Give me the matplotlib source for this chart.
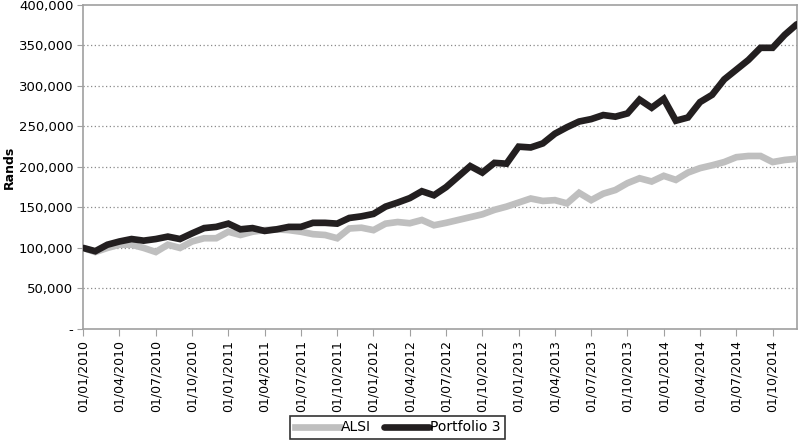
import matplotlib
matplotlib.use("Agg")
import matplotlib.pyplot as plt
from matplotlib.ticker import FuncFormatter

# monthly values, Jan 2010 - Dec 2014 (thousands of Rands)
months = list(range(60))
alsi = [100, 95, 100, 104, 104, 100, 95, 104, 100, 108,
        112, 112, 120, 116, 120, 122, 123, 122, 120, 117,
        116, 112, 124, 125, 122, 130, 132, 130.5, 134.5, 128,
        131, 134.5, 138, 141.5, 147, 151, 156, 161, 158, 159,
        155, 168, 159, 167, 171.5, 180, 186, 182, 189, 184,
        193, 198.5, 202, 206, 212, 213.5, 213.5, 206, 208.6, 210]
portfolio3 = [100, 96, 104, 108, 111, 109, 111, 114, 111, 118,
              124.5, 126, 130, 123, 124.5, 121, 123, 126, 126, 131,
              131, 130, 137, 139, 142, 151, 156, 161.5, 170, 165,
              175, 188, 201, 193, 205, 204, 225, 224, 229, 241,
              249, 256, 259, 264, 262, 266, 283, 273, 284, 257,
              261, 280, 289, 308, 320, 332, 347, 347, 363, 376]
tick_pos = list(range(0, 60, 3))
tick_labels = ["01/%02d/%d" % (m, y) for y in range(2010, 2015) for m in (1, 4, 7, 10)]
yticks = [0, 50000, 100000, 150000, 200000, 250000, 300000, 350000, 400000]

fig = plt.figure(figsize=(8, 4.41), dpi=100)
ax = fig.add_axes([0.104, 0.254, 0.892, 0.735])

ax.plot(months, [v * 1000 for v in alsi], color="#bfbfbf", lw=4.8,
        solid_joinstyle="miter", label="ALSI", zorder=3)
ax.plot(months, [v * 1000 for v in portfolio3], color="#231f20", lw=4.8,
        solid_joinstyle="miter", solid_capstyle="round", label="Portfolio 3", zorder=4)

ax.set_xlim(0, 59)
ax.set_ylim(0, 400000)
ax.set_yticks(yticks)
ax.yaxis.set_major_formatter(FuncFormatter(lambda v, p: "-" if v == 0 else "{:,.0f}".format(v)))
ax.set_xticks(tick_pos)
ax.set_xticklabels(tick_labels, rotation=90, fontsize=9)
ax.tick_params(axis="y", labelsize=9.5, length=4, color="#a0a0a0", pad=3)
ax.tick_params(axis="x", length=5, color="#a0a0a0", pad=3)

for v in yticks[1:-1]:
    ax.axhline(v, color="#8a8a8a", lw=0.9, ls=(0, (1, 2)), zorder=1)
for s in ax.spines.values():
    s.set_color("#a0a0a0")
    s.set_linewidth(1.2)

fig.text(0.012, 0.254 + 0.735 / 2, "Rands", rotation=90, fontsize=9,
         fontweight="bold", ha="center", va="center")

leg = fig.legend(loc="lower center", bbox_to_anchor=(0.497, -0.012), ncol=2,
                 frameon=True, fancybox=False, edgecolor="black", handlelength=3.2,
                 handletextpad=0.1, columnspacing=1.0, borderpad=0.35,
                 prop={"family": ["Liberation Sans Narrow", "DejaVu Sans"], "size": 10})
leg.get_frame().set_linewidth(1.2)

fig.savefig("out.png", dpi=100)
